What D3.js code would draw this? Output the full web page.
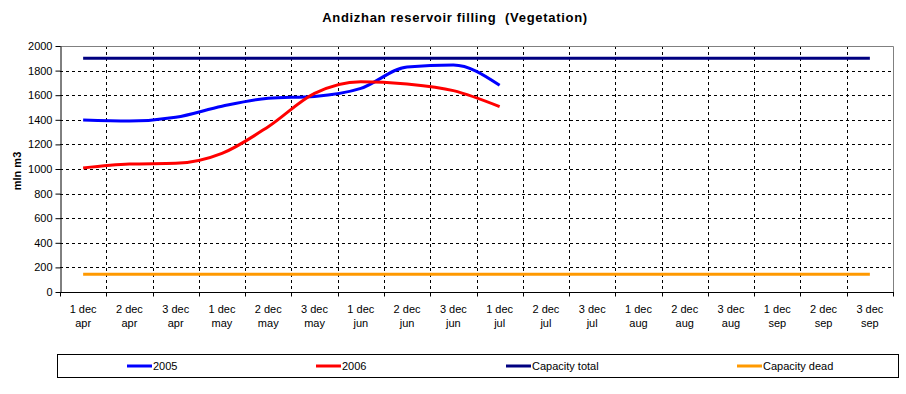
<!DOCTYPE html>
<html>
<head>
<meta charset="utf-8">
<script src="https://cdn.jsdelivr.net/npm/d3@7"></script>
<style>
  body { margin: 0; background: #fff; }
  text { font-family: "Liberation Sans", Arial, sans-serif; }
</style>
</head>
<body>
<div id="graf"></div>
<script>
// decades (10-day periods) of the vegetation season
const decades = ["1 dec", "2 dec", "3 dec"]
const months = ["apr", "may", "jun", "jul", "aug", "sep"]
const categories = months.flatMap(m => decades.map(d => d + "|" + m))

const yTicks = [0, 200, 400, 600, 800, 1000, 1200, 1400, 1600, 1800, 2000]

// reservoir volume, mln m3
const values2005 = [1398, 1390, 1420, 1510, 1575, 1590, 1655, 1830, 1845, 1680]
const values2006 = [1008, 1040, 1046, 1127, 1344, 1615, 1710, 1691, 1637, 1507]
const capacityTotal = 1900
const capacityDead = 144

const seriesNames = ["2005", "2006", "Capacity total", "Capacity dead"]
const seriesColors = ["#0000ff", "#ff0000", "#000080", "#ff9900"]

const width = 906, height = 394
const margin = {top: 46, right: 13, bottom: 102, left: 60}

const svg = d3.select("#graf").append("svg")
    .attr("width", width)
    .attr("height", height)

const x = d3.scaleBand()
    .domain(categories)
    .range([margin.left, width - margin.right])

const y = d3.scaleLinear()
    .domain([0, 2000])
    .range([height - margin.bottom, margin.top])

const cx = c => x(c) + x.bandwidth() / 2

// title
svg.append("text")
    .attr("x", 455)
    .attr("y", 22)
    .attr("text-anchor", "middle")
    .attr("font-size", 13)
    .attr("font-weight", "bold")
    .attr("letter-spacing", 0.7)
    .style("white-space", "pre")
    .text("Andizhan reservoir filling  (Vegetation)")

// horizontal dashed grid
svg.append("g")
    .selectAll("line")
    .data(yTicks.filter(v => v > 0 && v < 2000))
    .join("line")
    .attr("x1", margin.left)
    .attr("x2", width - margin.right)
    .attr("y1", d => Math.round(y(d)) + 0.5)
    .attr("y2", d => Math.round(y(d)) + 0.5)
    .attr("stroke", "#000")
    .attr("stroke-dasharray", "3,3")

// vertical dashed grid at category boundaries
svg.append("g")
    .selectAll("line")
    .data(categories.slice(1))
    .join("line")
    .attr("x1", d => Math.round(x(d)) + 0.5)
    .attr("x2", d => Math.round(x(d)) + 0.5)
    .attr("y1", margin.top)
    .attr("y2", height - margin.bottom)
    .attr("stroke", "#000")
    .attr("stroke-dasharray", "3,3")

// plot area border (top, right)
svg.append("path")
    .attr("fill", "none")
    .attr("stroke", "#808080")
    .attr("d", `M${margin.left},${margin.top + 0.5}H${width - margin.right + 0.5}V${height - margin.bottom}`)

// y axis
const yAxis = svg.append("g")
    .attr("transform", `translate(${margin.left + 0.5},0)`)
    .call(d3.axisLeft(y).tickValues(yTicks).tickFormat(d3.format("d")).tickSize(5).tickPadding(3).tickSizeOuter(0))
yAxis.select(".domain").attr("stroke", "#000")
yAxis.selectAll("text").attr("font-size", 11).attr("font-family", "Liberation Sans, Arial, sans-serif").attr("fill", "#000")

// x axis: ticks on category boundaries
const xAxisG = svg.append("g")
    .attr("transform", `translate(0,${height - margin.bottom + 0.5})`)
xAxisG.append("line")
    .attr("x1", margin.left)
    .attr("x2", width - margin.right + 1)
    .attr("stroke", "#000")
xAxisG.selectAll(".tick")
    .data(categories.map(c => x(c)).concat([x.range()[1]]))
    .join("line")
    .attr("x1", d => Math.round(d) + 0.5)
    .attr("x2", d => Math.round(d) + 0.5)
    .attr("y1", 0)
    .attr("y2", 4)
    .attr("stroke", "#000")
const xl = xAxisG.selectAll("text.lbl")
    .data(categories)
    .join("text")
    .attr("class", "lbl")
    .attr("text-anchor", "middle")
    .attr("font-size", 11)
xl.append("tspan")
    .attr("x", d => cx(d))
    .attr("y", 20)
    .text(d => d.split("|")[0])
xl.append("tspan")
    .attr("x", d => cx(d))
    .attr("y", 34)
    .text(d => d.split("|")[1])

// y axis title
svg.append("text")
    .attr("transform", `translate(21,171) rotate(-90)`)
    .attr("text-anchor", "middle")
    .attr("font-size", 11)
    .attr("font-weight", "bold")
    .text("mln m3")

// series
const line = d3.line()
    .x(d => cx(d.c))
    .y(d => y(d.v))
    .curve(d3.curveMonotoneX)

const seriesData = [
  values2005.map((v, i) => ({c: categories[i], v})),
  values2006.map((v, i) => ({c: categories[i], v})),
  categories.map(c => ({c, v: capacityTotal})),
  categories.map(c => ({c, v: capacityDead}))
]

svg.append("g")
    .selectAll("path")
    .data(seriesData)
    .join("path")
    .attr("fill", "none")
    .attr("stroke", (d, i) => seriesColors[i])
    .attr("stroke-width", 3)
    .attr("stroke-linejoin", "round")
    .attr("d", line)

// legend
const legend = svg.append("g")
legend.append("rect")
    .attr("x", 57.5)
    .attr("y", 354.5)
    .attr("width", 841)
    .attr("height", 23)
    .attr("fill", "#fff")
    .attr("stroke", "#000")
const legendX = [127, 316, 506, 737]
const items = legend.selectAll("g.item")
    .data(seriesNames)
    .join("g")
    .attr("class", "item")
    .attr("transform", (d, i) => `translate(${legendX[i]},366)`)
items.append("line")
    .attr("x1", 0)
    .attr("x2", 25)
    .attr("stroke", (d, i) => seriesColors[i])
    .attr("stroke-width", 3)
items.append("text")
    .attr("x", 26)
    .attr("y", 4)
    .attr("font-size", 11)
    .text(d => d)
</script>
</body>
</html>
